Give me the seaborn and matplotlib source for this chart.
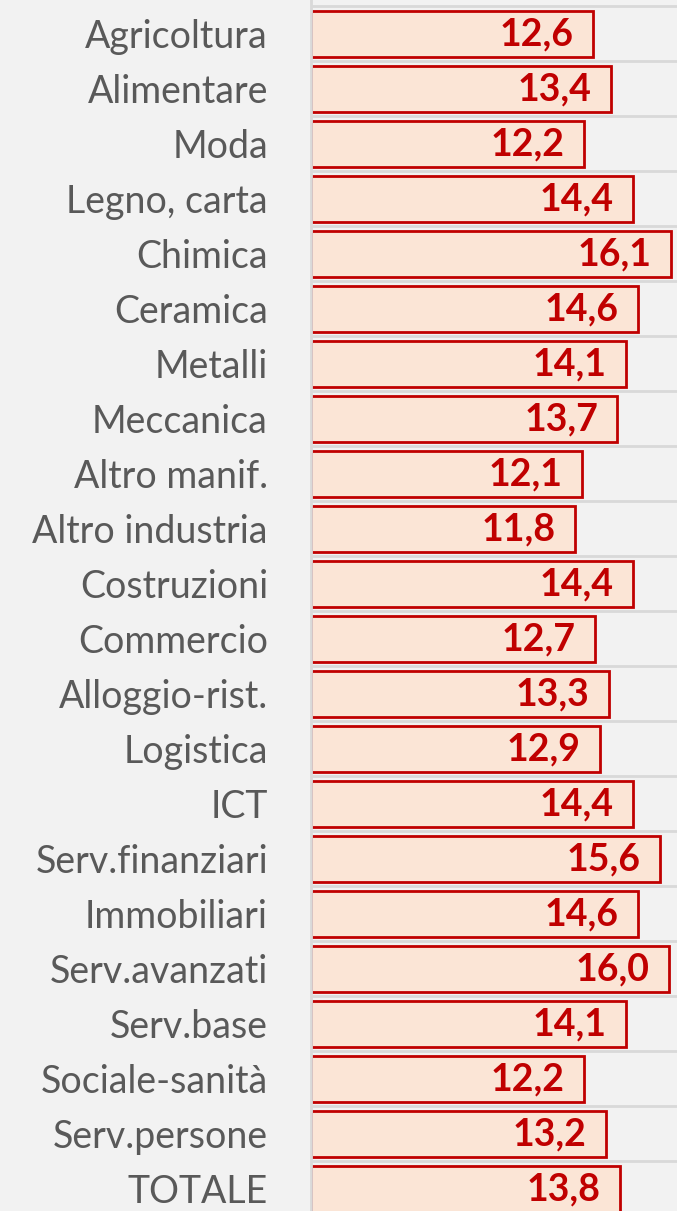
import numpy as np
import pandas as pd
import matplotlib.pyplot as plt
import seaborn as sns

# dati
settori = ['Agricoltura', 'Alimentare', 'Moda', 'Legno, carta', 'Chimica', 'Ceramica',
           'Metalli', 'Meccanica', 'Altro manif.', 'Altro industria', 'Costruzioni',
           'Commercio', 'Alloggio-rist.', 'Logistica', 'ICT', 'Serv.finanziari',
           'Immobiliari', 'Serv.avanzati', 'Serv.base', 'Sociale-sanità',
           'Serv.persone', 'TOTALE']
valori = [12.6, 13.4, 12.2, 14.4, 16.1, 14.6, 14.1, 13.7, 12.1, 11.8, 14.4,
          12.7, 13.3, 12.9, 14.4, 15.6, 14.6, 16.0, 14.1, 12.2, 13.2, 13.8]

df = pd.DataFrame({'settore': settori, 'valore': valori})

sns.set_style('white')
plt.rcParams['font.family'] = ['Lato', 'DejaVu Sans']

fig = plt.figure(figsize=(6.77, 12.11), dpi=100, facecolor='#F2F2F2')
ax = fig.add_axes([311 / 677, 0, 366 / 677, 1])
ax.set_facecolor('#F2F2F2')

sns.barplot(data=df, x='valore', y='settore', orient='h', color='#FBE5D6',
            saturation=1, edgecolor='#C00000', linewidth=2, width=0.84, ax=ax)

for i, v in enumerate(valori):
    ax.annotate(f'{v:.1f}'.replace('.', ','), xy=(v, i), xytext=(-14, 0),
                textcoords='offset points', ha='right', va='center',
                color='#C00000', fontsize=27, fontweight='bold')

ax.set_xlim(0, 16.36)
ax.set_ylim(21.40, -0.618)

# griglia tra le categorie
ax.set_yticks(np.arange(len(settori)) - 0.5, minor=True)
ax.grid(True, which='minor', axis='y', color='#D9D9D9', linewidth=2)
ax.grid(False, which='major')
ax.set_axisbelow(True)
ax.tick_params(axis='y', which='both', length=0, pad=31, labelsize=27,
               labelcolor='#595959')
ax.set_xticks([])
ax.set_xlabel('')
ax.set_ylabel('')

for s in ['top', 'right', 'bottom']:
    ax.spines[s].set_visible(False)
ax.spines['left'].set_color('#D9D9D9')
ax.spines['left'].set_linewidth(2)

fig.savefig('out.png', dpi=100, facecolor='#F2F2F2')
